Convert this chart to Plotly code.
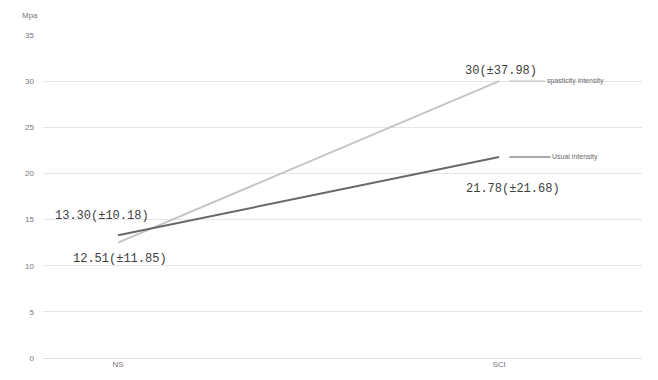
import plotly.graph_objects as go

# Groups on the x axis and the two measured series (mean and SD, MPa)
groups = ["NS", "SCI"]
usual_mean = [13.30, 21.78]
usual_sd = [10.18, 21.68]
spastic_mean = [12.51, 30.00]
spastic_sd = [11.85, 37.98]
series_names = ["Usual intensity", "spasticity intensity"]
y_ticks = [0, 5, 10, 15, 20, 25, 30, 35]


def fmt(m, s):
    txt = f"{m:.0f}" if float(m).is_integer() else f"{m:.2f}"
    return f"{txt}(±{s:.2f})"


fig = go.Figure()
fig.add_trace(go.Scatter(x=[0, 1], y=spastic_mean, mode="lines",
                         line=dict(color="#c4c4c4", width=2), showlegend=False))
fig.add_trace(go.Scatter(x=[0, 1], y=usual_mean, mode="lines",
                         line=dict(color="#686868", width=2), showlegend=False))

label_font = dict(family="Liberation Mono", size=12, color="#404040")
# value labels next to each end point
offsets_usual = [(-16, -19), (14, 32)]
offsets_spastic = [(2, 16), (2, -10)]
for i in range(2):
    dx, dy = offsets_usual[i]
    fig.add_annotation(x=i, y=usual_mean[i], text=fmt(usual_mean[i], usual_sd[i]),
                       showarrow=False, xshift=dx, yshift=-dy, font=label_font)
    dx, dy = offsets_spastic[i]
    fig.add_annotation(x=i, y=spastic_mean[i], text=fmt(spastic_mean[i], spastic_sd[i]),
                       showarrow=False, xshift=dx, yshift=-dy, font=label_font)

# series names at the right-hand end, with leader lines
name_font = dict(family="Liberation Sans", size=7, color="#6a6a6a")
for name, vals, col in [(series_names[1], spastic_mean, "#c4c4c4"),
                        (series_names[0], usual_mean, "#555555")]:
    fig.add_annotation(x=1, y=vals[1], text=name, showarrow=True, arrowhead=0,
                       arrowwidth=1.2, arrowcolor=col, ax=76, ay=0, standoff=10,
                       font=name_font)

fig.add_annotation(xref="paper", yref="paper", x=-0.022, y=1.06,
                   xanchor="center", yanchor="middle", text="Mpa",
                   showarrow=False, font=dict(family="Liberation Sans", size=8, color="#777"))

fig.update_xaxes(tickmode="array", tickvals=[0, 1], ticktext=groups,
                 range=[-0.197, 1.375], showgrid=False, zeroline=False,
                 showline=False, ticks="",
                 tickfont=dict(family="Liberation Sans", size=8, color="#777"))
fig.update_yaxes(range=[0, 35], tickvals=y_ticks, showgrid=True,
                 gridcolor="#e6e6e6", gridwidth=1, zeroline=True,
                 zerolinecolor="#e0e0e0", zerolinewidth=1,
                 showline=False, ticks="", ticklabelstandoff=8,
                 tickfont=dict(family="Liberation Sans", size=8, color="#777"))
fig.update_layout(width=658, height=380, paper_bgcolor="white",
                  plot_bgcolor="white",
                  margin=dict(l=43, r=16, t=35, b=22))
fig.write_html("out.html")
